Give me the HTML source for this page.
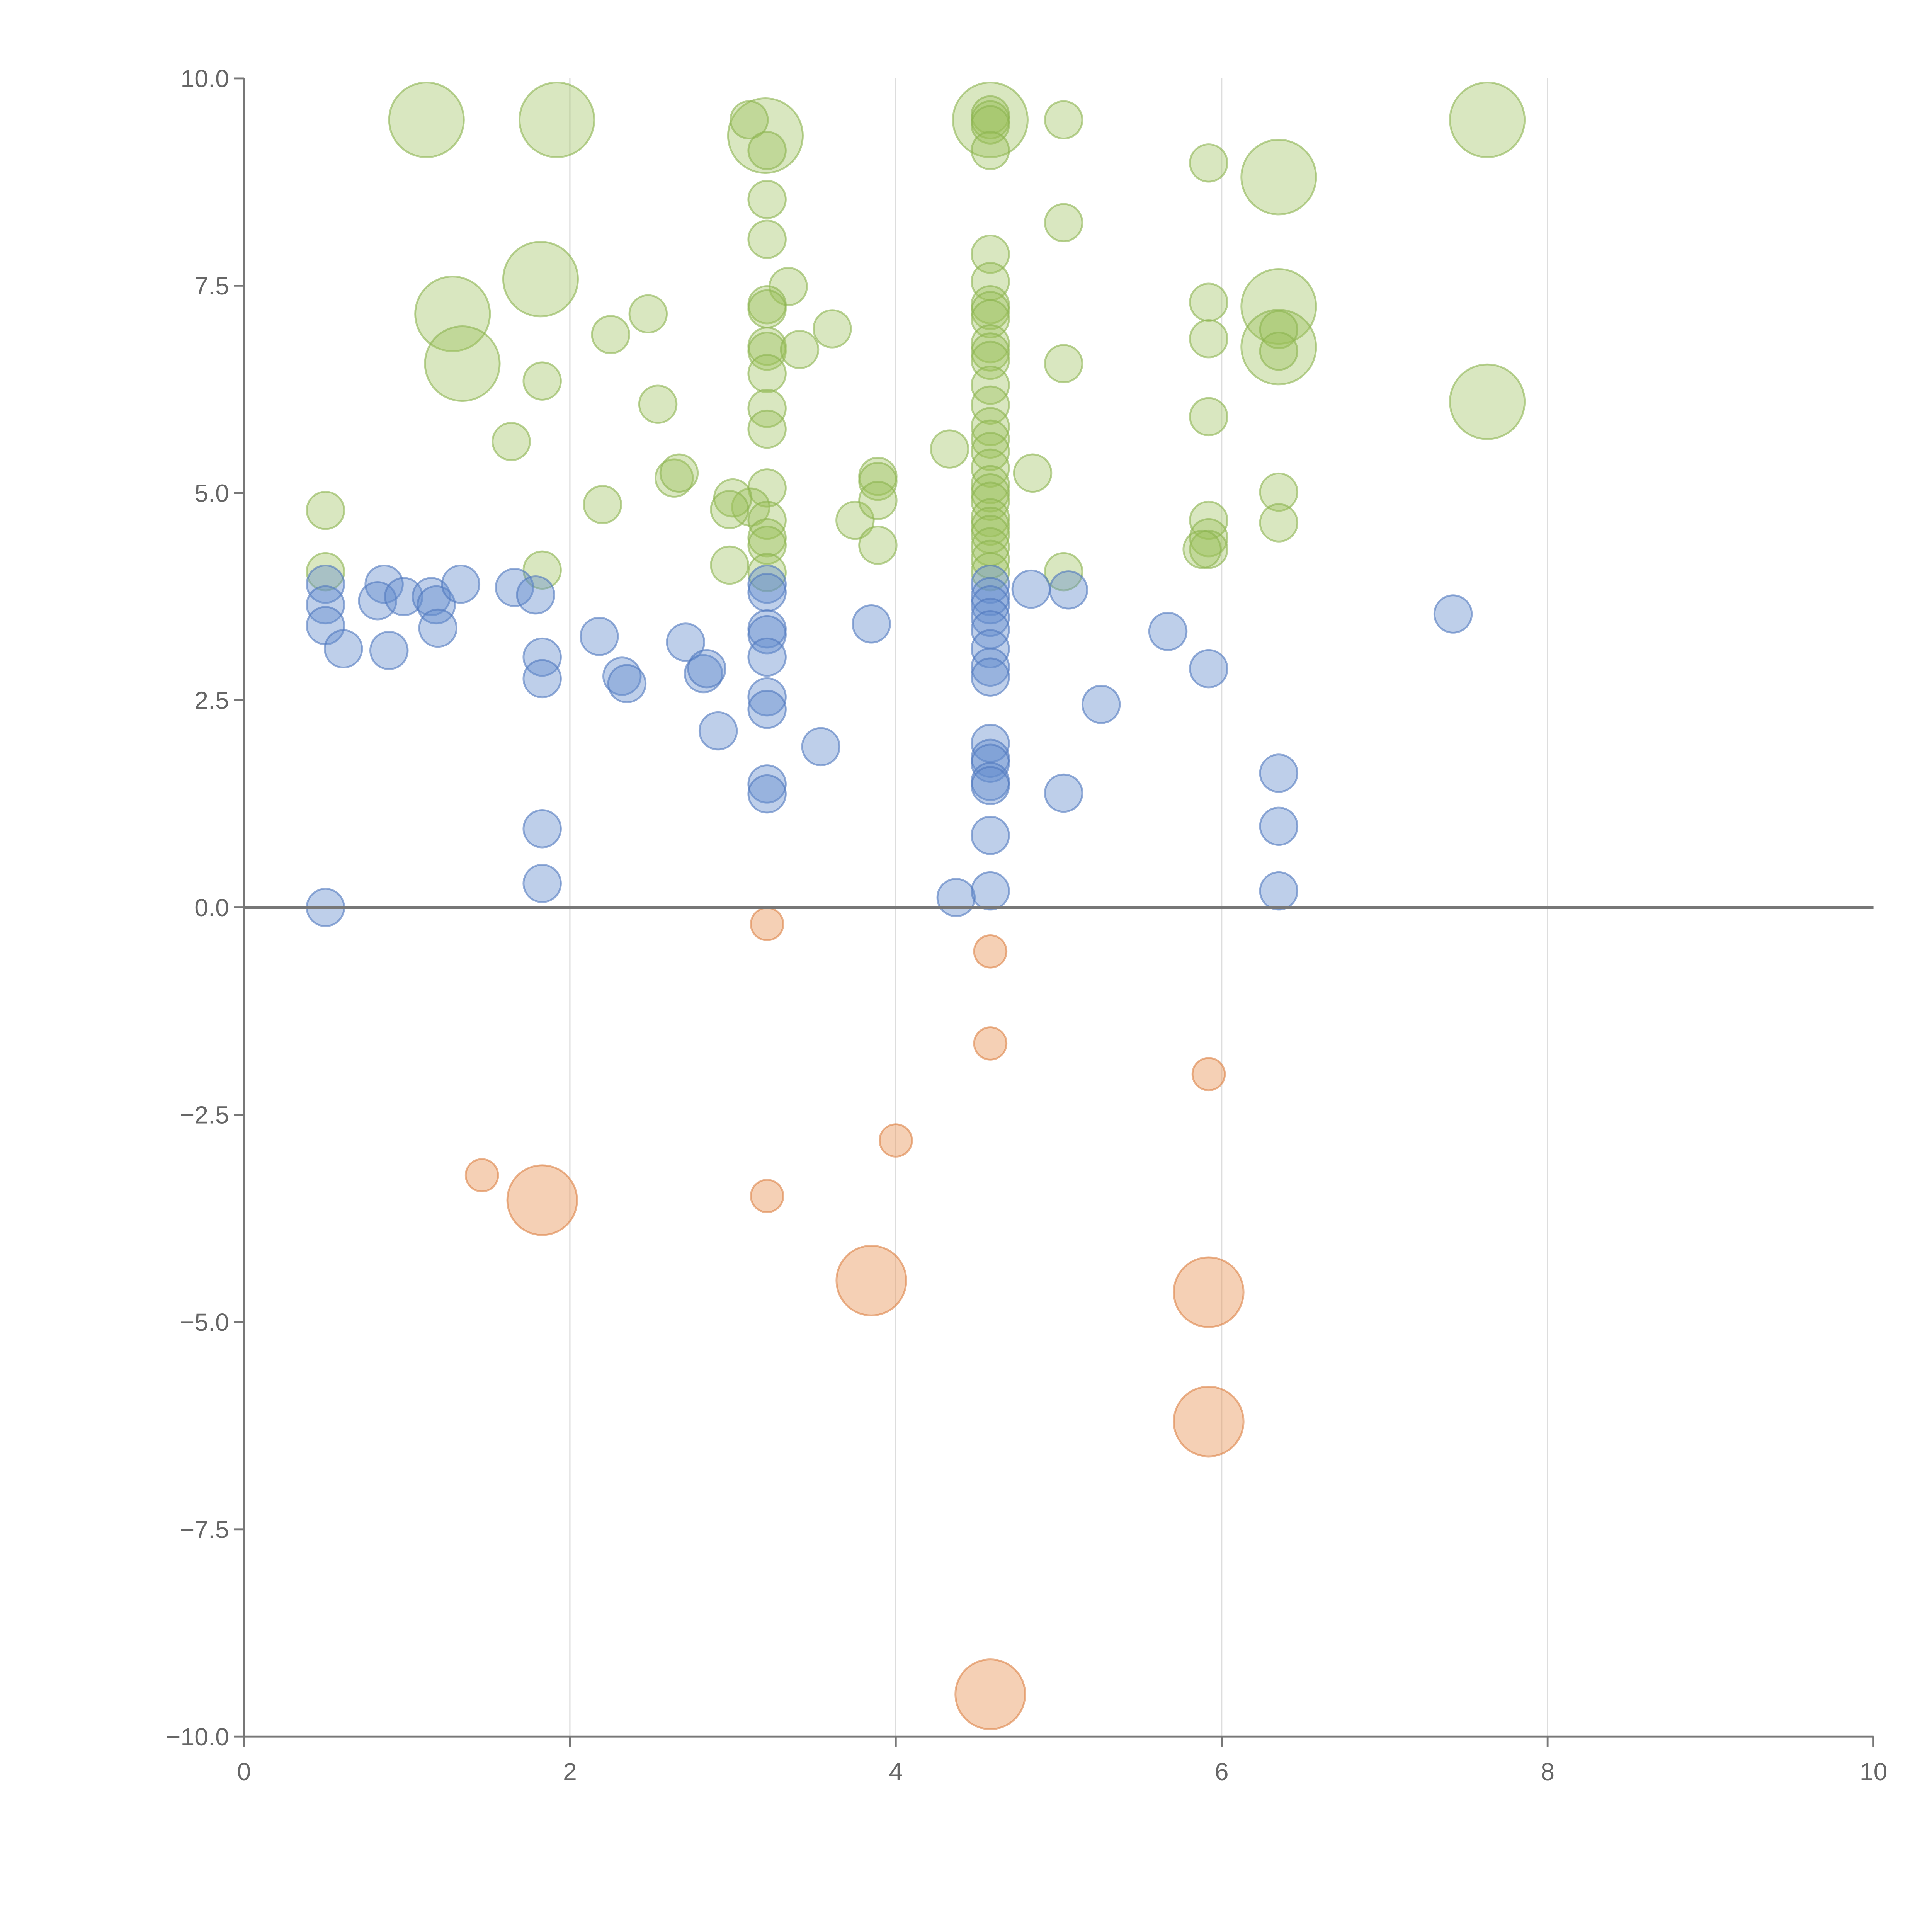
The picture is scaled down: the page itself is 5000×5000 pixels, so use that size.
<!DOCTYPE html>
<html><head><meta charset="utf-8"><style>html,body{margin:0;padding:0;background:#fff}svg{display:block}</style></head>
<body>
<svg id="chart" width="5000" height="5000" viewBox="0 0 1552 1552" xmlns="http://www.w3.org/2000/svg" font-family="Liberation Sans, Arial, sans-serif"></svg>
<script>
const xTicks = [0, 2, 4, 6, 8, 10];
const yTicks = [10, 7.5, 5, 2.5, 0, -2.5, -5, -7.5, -10];
const yTickLabels = ["10.0", "7.5", "5.0", "2.5", "0.0", "\u22122.5", "\u22125.0", "\u22127.5", "\u221210.0"];

const blueX = [0.5,0.5,0.5,0.5,0.61,0.86,0.82,0.89,0.98,1.15,1.18,1.19,1.33,1.66,1.79,1.83,1.83,1.83,1.83,2.18,2.32,2.35,2.71,2.82,2.84,2.91,3.21,3.21,3.21,3.21,3.21,3.21,3.21,3.21,3.21,3.54,3.85,4.37,4.58,4.58,4.58,4.58,4.58,4.58,4.58,4.58,4.58,4.58,4.58,4.58,4.58,4.58,4.58,4.83,5.06,5.03,5.26,5.67,5.92,6.35,6.35,6.35,7.42];
const blueY = [0,3.9,3.65,3.4,3.12,3.9,3.7,3.1,3.75,3.75,3.65,3.37,3.9,3.86,3.77,3.02,2.76,0.95,0.29,3.27,2.79,2.7,3.2,2.82,2.88,2.13,3.9,3.8,3.36,3.29,3.02,2.54,2.39,1.49,1.37,1.94,3.42,0.12,3.9,3.75,3.65,3.5,3.35,3.12,2.9,2.78,1.98,1.8,1.74,1.52,1.47,0.87,0.2,3.84,3.83,1.38,2.45,3.33,2.88,1.62,0.98,0.2,3.54];

const orangeX = [3.21,4.58,4.58,5.92,4.0,1.46,1.83,3.21,3.85,5.92,5.92,4.58];
const orangeY = [-0.2,-0.53,-1.64,-2.01,-2.81,-3.23,-3.53,-3.48,-4.5,-4.64,-6.2,-9.49];
const orangeBig = [0,0,0,0,0,0,1,0,1,1,1,1];

const greenX = [1.12,1.92,3.2,4.58,7.63,6.35,1.82,1.28,1.34,6.35,6.35,7.63,
 3.1,3.21,3.21,3.21,3.34,3.21,3.21,3.21,3.21,3.21,3.21,3.21,3.21,3.11,3.21,3.21,3.21,3.21,
 3.61,3.41,2.48,2.25,2.54,1.83,1.64,2.2,2.64,2.67,3.0,2.98,2.98,0.5,0.5,1.83,3.75,3.89,3.89,3.89,3.89,4.33,
 4.58,4.58,4.58,4.58,4.58,4.58,4.58,4.58,4.58,4.58,4.58,4.58,4.58,4.58,4.58,4.58,4.58,4.58,4.58,4.58,4.58,4.58,4.58,4.58,4.58,4.58,4.58,
 5.03,5.03,5.03,4.84,5.03,5.92,5.92,5.92,5.92,5.92,5.92,5.92,5.88,6.35,6.35,6.35,6.35];
const greenY = [9.5,9.5,9.31,9.5,9.5,8.81,7.58,7.16,6.56,7.25,6.76,6.1,
 9.5,9.13,8.54,8.06,7.49,7.27,7.22,6.77,6.71,6.44,6.02,5.77,5.06,4.83,4.67,4.46,4.37,4.04,
 6.98,6.73,7.16,6.91,6.07,6.35,5.62,4.86,5.18,5.24,4.94,4.8,4.13,4.79,4.05,4.07,4.67,5.2,5.14,4.91,4.37,5.53,
 9.56,9.5,9.44,9.13,7.88,7.55,7.27,7.2,7.1,6.8,6.7,6.6,6.3,6.06,5.8,5.65,5.5,5.3,5.1,5.0,4.9,4.7,4.6,4.5,4.35,4.2,4.05,
 9.5,8.26,6.56,5.24,4.05,8.98,7.3,6.86,5.92,4.67,4.46,4.32,4.32,6.97,6.71,5.01,4.64];
const greenBig = [1,1,1,1,1,1,1,1,1,1,1,1];

const svg = document.getElementById('chart');
const NS = 'http://www.w3.org/2000/svg';
const X0 = 196, X1 = 1505, Y0 = 1395, Y1 = 63;
const sx = v => X0 + (v - 0) / 10 * (X1 - X0);
const sy = v => Y0 - (v + 10) / 20 * (Y0 - Y1);
function mk(tag, attrs) { const e = document.createElementNS(NS, tag); for (const k in attrs) e.setAttribute(k, attrs[k]); svg.appendChild(e); return e; }

// grid
xTicks.forEach(t => {
  if (t > 0 && t < 10) {
    const g = mk('line', {x1: sx(t), x2: sx(t), y1: Y1, y2: Y0, stroke: '#dddddd', 'stroke-width': 1});
    
    
  }
});

function series(xs, ys, bigs, fill, stroke, rs, rb, name) {
  xs.forEach((x, i) => {
    const big = bigs[i] === 1;
    const c = mk('circle', {cx: sx(x), cy: sy(ys[i]), r: big ? rb : rs, fill: fill, stroke: stroke, 'stroke-width': 1.5});
    
    
  });
}
series(greenX, greenY, greenBig, 'rgba(155,192,90,0.38)', 'rgba(140,180,80,0.6)', 15, 30, 'green-bubble');
series(blueX, blueY, [], 'rgba(100,140,205,0.42)', 'rgba(80,120,190,0.6)', 15, 30, 'blue-bubble');
series(orangeX, orangeY, orangeBig, 'rgba(232,150,90,0.45)', 'rgba(220,130,70,0.6)', 13, 28, 'orange-bubble');

// zero line
const z = mk('line', {x1: X0, x2: X1, y1: sy(0), y2: sy(0), stroke: '#777', 'stroke-width': 2.5});



// axes
const ya = mk('line', {x1: X0, x2: X0, y1: Y1, y2: Y0, stroke: '#777', 'stroke-width': 1.5});


const xa = mk('line', {x1: X0, x2: X1, y1: Y0, y2: Y0, stroke: '#777', 'stroke-width': 1.5});



yTicks.forEach((t, i) => {
  const tk = mk('line', {x1: X0 - 8, x2: X0, y1: sy(t), y2: sy(t), stroke: '#777', 'stroke-width': 1.5});
  
  
  const tx = mk('text', {x: X0 - 12, y: sy(t) + 7, 'text-anchor': 'end', 'font-size': 20, fill: '#666'});
  tx.textContent = yTickLabels[i];
  
  
});
xTicks.forEach(t => {
  const tk = mk('line', {x1: sx(t), x2: sx(t), y1: Y0, y2: Y0 + 8, stroke: '#777', 'stroke-width': 1.5});
  
  
  const tx = mk('text', {x: sx(t), y: Y0 + 35, 'text-anchor': 'middle', 'font-size': 20, fill: '#666'});
  tx.textContent = String(t);
  
  
});
</script>
</body></html>
